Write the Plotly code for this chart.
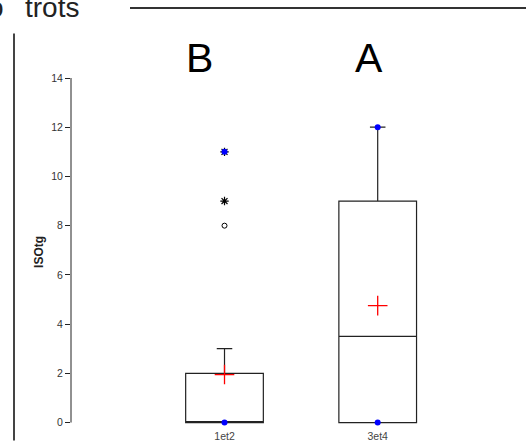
import plotly.graph_objects as go

# ---- data ----
categories = ["1et2", "3et4"]
q1 = [0, 0]
median = [0, 3.5]
q3 = [2, 9]
whisker_low = [0, 0]
whisker_high = [3, 12]
means = [1.95, 4.75]
mins = [0, 0]
maxs = [11, 12]
outliers_circle_cat = ["1et2"]
outliers_circle_val = [8]
outliers_star_cat = ["1et2", "1et2"]
outliers_star_val = [9, 11]
group_letters = ["B", "A"]
y_ticks = [0, 2, 4, 6, 8, 10, 12, 14]
y_title = "ISOtg"

W, H = 526, 441
L, R, T, B = 71, 0, 77.7, 15.5
pw, ph = W - L - R, H - T - B

def px(xp):
    return (xp - L) / pw

def py(yp):
    return (H - B - yp) / ph

pos = {c: i for i, c in enumerate(categories)}
xs = [pos[c] for c in categories]

fig = go.Figure()

fig.add_trace(go.Box(
    x=xs, q1=q1, median=median, q3=q3,
    lowerfence=whisker_low, upperfence=whisker_high,
    width=0.507, whiskerwidth=0.2,
    line=dict(color="#222222", width=1.2),
    fillcolor="rgba(255,255,255,0)",
    boxpoints=False, showlegend=False, hoverinfo="skip",
))

# outliers
fig.add_trace(go.Scatter(
    x=[pos[c] for c in outliers_circle_cat], y=outliers_circle_val,
    mode="markers", cliponaxis=False, showlegend=False,
    marker=dict(symbol="circle-open", size=5, color="black", line=dict(width=1)),
))
fig.add_trace(go.Scatter(
    x=[pos[c] for c in outliers_star_cat], y=outliers_star_val,
    mode="markers", cliponaxis=False, showlegend=False,
    marker=dict(symbol="asterisk-open", size=7, color="black", line=dict(width=1.2, color="black")),
))
# min / max
fig.add_trace(go.Scatter(
    x=xs + xs, y=mins + maxs,
    mode="markers", cliponaxis=False, showlegend=False,
    marker=dict(symbol="circle", size=6, color="#0000ff"),
))
# means
fig.add_trace(go.Scatter(
    x=xs, y=means,
    mode="markers", cliponaxis=False, showlegend=False,
    marker=dict(symbol="cross-thin", size=14, color="red", line=dict(width=1.3, color="#ff0000")),
))

# group letters
for i, (c, g) in enumerate(zip(categories, group_letters)):
    fig.add_annotation(x=pos[c], y=py(57.7), yref="paper", text=g, showarrow=False,
                       xshift=[-25, -9][i], xanchor="center", yanchor="middle",
                       font=dict(family="Liberation Sans, Arial", size=41, color="black"))

# y axis title
fig.add_annotation(x=px(39), y=py(252), xref="paper", yref="paper", text="<b>" + y_title + "</b>",
                   textangle=-90, showarrow=False, xanchor="center", yanchor="middle",
                   font=dict(family="Liberation Sans, Arial", size=12, color="#222222"))

# clipped header text
fig.add_annotation(x=px(81), y=py(24.5), xref="paper", yref="paper", text="trots",
                   showarrow=False, xanchor="right", yanchor="bottom",
                   font=dict(family="Liberation Sans, Arial", size=28, color="#222222"))
fig.add_annotation(x=px(6), y=py(24.5), xref="paper", yref="paper", text="o",
                   showarrow=False, xanchor="right", yanchor="bottom",
                   font=dict(family="Liberation Sans, Arial", size=28, color="#222222"))

shapes = [
    dict(type="line", xref="paper", yref="paper", x0=px(130), x1=px(526), y0=py(7.5), y1=py(7.5),
         line=dict(color="#333333", width=2)),
    dict(type="line", xref="paper", yref="paper", x0=px(14), x1=px(14), y0=py(33), y1=py(441),
         line=dict(color="#444444", width=2)),
    dict(type="line", xref="paper", yref="y", x0=0, x1=0, y0=0, y1=14,
         line=dict(color="#222222", width=1)),
]
fig.update_layout(shapes=shapes)

fig.update_layout(
    width=W, height=H,
    margin=dict(l=L, r=R, t=T, b=B, pad=0),
    paper_bgcolor="white", plot_bgcolor="white",
    font=dict(family="Liberation Sans, Arial", color="#333333"),
    xaxis=dict(range=[-1.002, 1.968], tickvals=xs, ticktext=categories,
               showgrid=False, zeroline=False, showline=False, ticks="",
               ticklabelstandoff=3,
               tickfont=dict(size=10.5, color="#444444")),
    yaxis=dict(range=[-0.1, 14], tickvals=y_ticks, showgrid=False, zeroline=False,
               showline=False, ticks="outside", ticklen=5, tickcolor="#222222",
               tickfont=dict(size=10.5, color="#333333")),
)

fig.write_html("out.html", config={"displayModeBar": False},
               post_script="document.body.style.margin='0';document.body.style.overflow='hidden';")
